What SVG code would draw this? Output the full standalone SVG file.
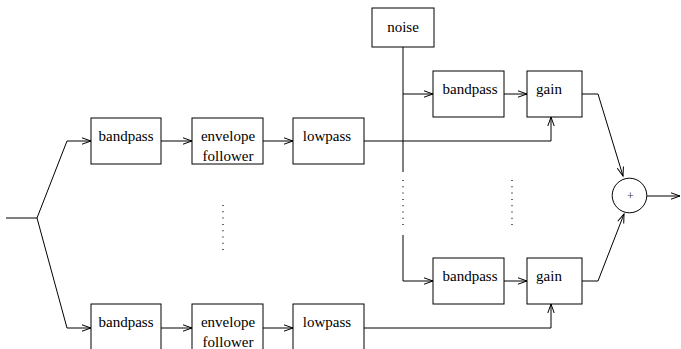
<svg xmlns="http://www.w3.org/2000/svg" width="681" height="349" viewBox="0 0 681 349">
  <style>
    .box { fill: #fff; stroke: #000; stroke-width: 1; }
    .lbl { font-family: "Liberation Serif", "Times New Roman", serif; font-size: 15px; fill: #000; }
    .wire { fill: none; stroke: #000; stroke-width: 1; }
    .arr { marker-end: url(#head); }
    .dots { fill: none; stroke: #000; stroke-width: 1.2; stroke-dasharray: 1 5.3; }
  </style>
  <defs>
    <marker id="head" markerUnits="userSpaceOnUse" viewBox="-10 -5 12 10" refX="0" refY="0" markerWidth="12" markerHeight="10" orient="auto" overflow="visible">
      <path d="M-9,-3.2 L0,0 L-9,3.2" fill="none" stroke="#000" stroke-width="1"/>
    </marker>
  </defs>
  <rect width="681" height="349" fill="#fff"/>

  <!-- connectors -->
  <g id="connectors">
    <path class="wire" d="M6,218 H37"/>
    <path class="wire arr" d="M37,218 L67,141 H91"/>
    <path class="wire arr" d="M37,218 L67,328 H91"/>
    <path class="wire arr" d="M161,141 H192"/>
    <path class="wire arr" d="M161,328 H192"/>
    <path class="wire arr" d="M263,141 H293"/>
    <path class="wire arr" d="M263,328 H293"/>
    <path class="wire arr" d="M364,141 H551 V117"/>
    <path class="wire arr" d="M364,328 H551 V304"/>
    <path class="wire" d="M403,47 V172"/>
    <path class="wire arr" d="M403,94 H433"/>
    <path class="wire arr" d="M403,235 V281 H433"/>
    <path class="wire arr" d="M504,94 H527"/>
    <path class="wire arr" d="M504,281 H527"/>
    <path class="wire arr" d="M582,94 H598 L623,176"/>
    <path class="wire arr" d="M582,281 H598 L624,214"/>
    <path class="wire arr" d="M647,196 H680"/>
    <!-- elided parallel channels -->
    <path class="dots" d="M223,205 V250"/>
    <path class="dots" d="M403,180 V228"/>
    <path class="dots" d="M512,180 V228"/>
  </g>

  <!-- analysis chain, first channel -->
  <g id="bandpass1">
    <rect class="box" x="91" y="118" width="70" height="46"/>
    <text class="lbl" x="126" y="141" text-anchor="middle">bandpass</text>
  </g>
  <g id="envelope1">
    <rect class="box" x="192" y="118" width="71" height="46"/>
    <text class="lbl" x="228" y="141" text-anchor="middle">envelope</text>
    <text class="lbl" x="228" y="161" text-anchor="middle">follower</text>
  </g>
  <g id="lowpass1">
    <rect class="box" x="293" y="118" width="71" height="46"/>
    <text class="lbl" x="327" y="141" text-anchor="middle">lowpass</text>
  </g>

  <!-- analysis chain, last channel -->
  <g id="bandpass2">
    <rect class="box" x="91" y="304" width="70" height="46"/>
    <text class="lbl" x="126" y="327" text-anchor="middle">bandpass</text>
  </g>
  <g id="envelope2">
    <rect class="box" x="192" y="304" width="71" height="46"/>
    <text class="lbl" x="228" y="327" text-anchor="middle">envelope</text>
    <text class="lbl" x="228" y="347" text-anchor="middle">follower</text>
  </g>
  <g id="lowpass2">
    <rect class="box" x="293" y="304" width="71" height="46"/>
    <text class="lbl" x="327" y="327" text-anchor="middle">lowpass</text>
  </g>

  <!-- synthesis side -->
  <g id="noise">
    <rect class="box" x="372" y="8" width="62" height="39"/>
    <text class="lbl" x="403" y="32" text-anchor="middle">noise</text>
  </g>
  <g id="synthBandpass1">
    <rect class="box" x="433" y="71" width="71" height="46"/>
    <text class="lbl" x="470" y="94" text-anchor="middle">bandpass</text>
  </g>
  <g id="gain1">
    <rect class="box" x="527" y="71" width="55" height="46"/>
    <text class="lbl" x="549" y="94" text-anchor="middle">gain</text>
  </g>
  <g id="synthBandpass2">
    <rect class="box" x="433" y="258" width="71" height="46"/>
    <text class="lbl" x="470" y="281" text-anchor="middle">bandpass</text>
  </g>
  <g id="gain2">
    <rect class="box" x="527" y="258" width="55" height="46"/>
    <text class="lbl" x="549" y="281" text-anchor="middle">gain</text>
  </g>
  <g id="sum">
    <circle class="box" cx="629.5" cy="195.5" r="17.3"/>
    <text x="630.5" y="199.5" text-anchor="middle" font-family="Liberation Serif, serif" font-size="12" fill="#333">+</text>
  </g>
</svg>
